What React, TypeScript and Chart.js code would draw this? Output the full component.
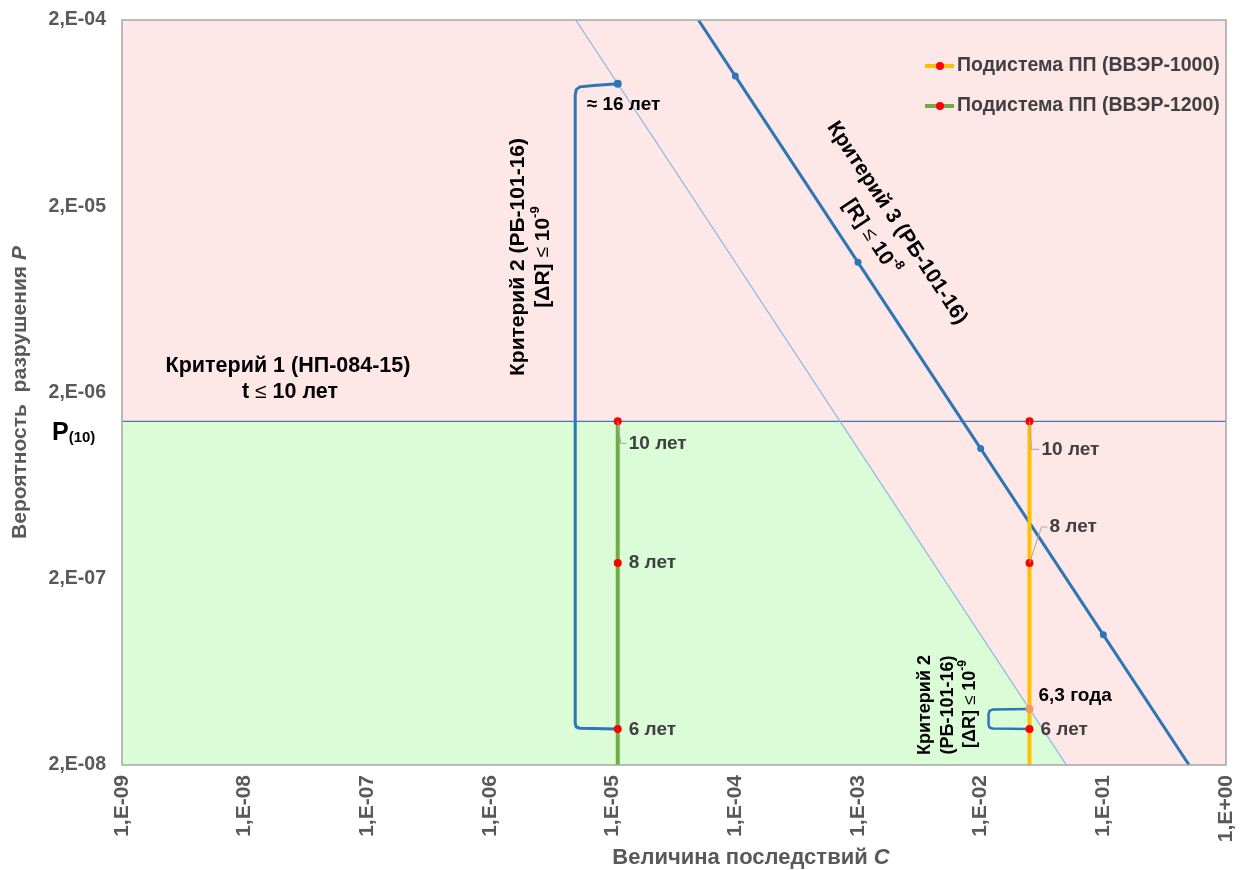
import React, { useEffect, useRef } from "react";
import { Chart, registerables } from "chart.js";

Chart.register(...registerables);

// ---------- data ----------
const xTickValues = [1e-9, 1e-8, 1e-7, 1e-6, 1e-5, 1e-4, 1e-3, 1e-2, 1e-1, 1];
const xTickLabels = ["1,E-09", "1,E-08", "1,E-07", "1,E-06", "1,E-05", "1,E-04", "1,E-03", "1,E-02", "1,E-01", "1,E+00"];
const yTickValues = [2e-8, 2e-7, 2e-6, 2e-5, 2e-4];
const yTickLabels = ["2,E-08", "2,E-07", "2,E-06", "2,E-05", "2,E-04"];

const P10 = 1.4e-6;
const crit1C = [1e-9, 1];
const crit2C = [5e-6, 0.05];
const crit2P = [2e-4, 2e-8];
const crit3C = [5e-5, 1e-4, 1e-3, 1e-2, 1e-1, 0.5];
const crit3P = [2e-4, 1e-4, 1e-5, 1e-6, 1e-7, 2e-8];
const crit3Marker = [0, 1, 1, 1, 1, 0];
const greenZoneC = [1e-9, 7.14e-4, 0.05];
const greenZoneP = [1.4e-6, 1.4e-6, 2e-8];

const seriesNames = ["Подистема ПП (ВВЭР-1000)", "Подистема ПП (ВВЭР-1200)"];
const vver1000C = 0.025;
const vver1200C = 1.1e-5;
const yearsP = [1.4e-6, 2.43e-7, 3.12e-8, 2e-8];
const yearsMarker = [1, 1, 1, 0];
const yearsLabels = ["10 лет", "8 лет", "6 лет"];

const point16C = 1.1e-5;
const point16P = 9.1e-5;
const point16Label = "≈ 16 лет";
const point63C = 0.025;
const point63P = 4.0e-8;
const point63Label = "6,3 года";

const bigBracketC = [1.1e-5, 7.0e-6, 5.4e-6, 5.05e-6, 4.95e-6, 4.95e-6, 5.05e-6, 5.4e-6, 1.1e-5];
const bigBracketP = [9.1e-5, 8.9e-5, 8.75e-5, 8.45e-5, 7.9e-5, 3.35e-8, 3.2e-8, 3.15e-8, 3.12e-8];
const smallBracketC = [0.025, 0.0125, 0.0118, 0.0116, 0.0116, 0.0118, 0.0125, 0.025];
const smallBracketP = [4.0e-8, 3.97e-8, 3.9e-8, 3.75e-8, 3.3e-8, 3.18e-8, 3.14e-8, 3.12e-8];

// ---------- styles ----------
const PINK = "#fde7e7";
const GREEN_BG = "#dafcd6";
const BLUE = "#2e75b6";
const LIGHT_BLUE = "#8fbbe3";
const P10_COLOR = "#4f74aa";
const GREEN = "#70ad47";
const ORANGE = "#ffc000";
const RED = "#ff0000";
const TICK_COLOR = "#595959";
const LABEL_COLOR = "#404040";
const FONT = "'Liberation Sans', Arial, sans-serif";

const zip = (xs: number[], ys: number[]) => xs.map((x, i) => ({ x, y: ys[i] }));

type Part = { text: string; font: string; dy?: number };

function drawRich(ctx: CanvasRenderingContext2D, parts: Part[], x: number, y: number, angle: number, color: string, align: "center" | "left" = "center") {
  ctx.save();
  ctx.translate(x, y);
  ctx.rotate(angle);
  ctx.fillStyle = color;
  ctx.textBaseline = "middle";
  ctx.textAlign = "left";
  let total = 0;
  for (const p of parts) {
    ctx.font = p.font;
    total += ctx.measureText(p.text).width;
  }
  let cx = align === "center" ? -total / 2 : 0;
  for (const p of parts) {
    ctx.font = p.font;
    ctx.fillText(p.text, cx, p.dy || 0);
    cx += ctx.measureText(p.text).width;
  }
  ctx.restore();
}

const bgPlugin = {
  id: "bgPlugin",
  beforeDatasetsDraw(chart: any) {
    const { ctx, chartArea: a } = chart;
    ctx.save();
    ctx.fillStyle = PINK;
    ctx.fillRect(a.left, a.top, a.right - a.left, a.bottom - a.top);
    ctx.restore();
  },
};

const annotPlugin = {
  id: "annotPlugin",
  afterDatasetsDraw(chart: any) {
    const { ctx, chartArea: a } = chart;
    const xs = chart.scales.x;
    const ys = chart.scales.y;
    const px = (v: number) => xs.getPixelForValue(v);
    const py = (v: number) => ys.getPixelForValue(v);

    // border
    ctx.save();
    ctx.strokeStyle = "#a6a6a6";
    ctx.lineWidth = 1.5;
    ctx.strokeRect(a.left, a.top, a.right - a.left, a.bottom - a.top);
    ctx.restore();

    const bold = (s: number) => `bold ${s}px ${FONT}`;
    const normal = (s: number) => `${s}px ${FONT}`;

    // leader lines
    const leader = (pts: number[][]) => {
      ctx.save();
      ctx.strokeStyle = "#a6a6a6";
      ctx.lineWidth = 1;
      ctx.beginPath();
      pts.forEach((p, i) => (i ? ctx.lineTo(p[0], p[1]) : ctx.moveTo(p[0], p[1])));
      ctx.stroke();
      ctx.restore();
    };
    const gx = px(vver1200C);
    const ox = px(vver1000C);
    const g10 = py(yearsP[0]);
    const o10 = py(yearsP[0]);
    const o8 = py(yearsP[1]);
    leader([[gx, g10], [gx + 3, g10 + 22], [gx + 9, g10 + 22]]);
    leader([[ox, o10], [ox + 2, o10 + 28], [ox + 10, o10 + 28]]);
    leader([[ox, o8], [ox + 12, o8 - 36], [ox + 18, o8 - 36]]);

    // year labels
    const yl = (t: string, x: number, y: number) => drawRich(ctx, [{ text: t, font: bold(19) }], x, y, 0, LABEL_COLOR, "left");
    yl(yearsLabels[0], gx + 11, g10 + 22);
    yl(yearsLabels[1], gx + 11, py(yearsP[1]));
    yl(yearsLabels[2], gx + 11, py(yearsP[2]) + 1);
    yl(yearsLabels[0], ox + 12, o10 + 28);
    yl(yearsLabels[1], ox + 20, o8 - 36);
    yl(yearsLabels[2], ox + 11, py(yearsP[2]) + 1);

    drawRich(ctx, [{ text: point16Label, font: bold(19) }], px(point16C) - 31, py(point16P) + 21, 0, "#000", "left");
    drawRich(ctx, [{ text: point63Label, font: bold(19) }], px(point63C) + 9, py(point63P) - 13, 0, "#000", "left");

    // criterion 1
    drawRich(ctx, [{ text: "Критерий 1 (НП-084-15)", font: bold(21.5) }], 288, 366, 0, "#000");
    drawRich(ctx, [{ text: "t ", font: bold(21.5) }, { text: "≤", font: normal(21) }, { text: " 10 лет", font: bold(21.5) }], 290, 392, 0, "#000");

    // criterion 2 (vertical)
    const up = -Math.PI / 2;
    drawRich(ctx, [{ text: "Критерий 2 (РБ-101-16)", font: bold(21) }], 518, 257, up, "#000");
    drawRich(ctx, [
      { text: "[ΔR] ", font: bold(21) },
      { text: "≤", font: normal(19) },
      { text: " 10", font: bold(21) },
      { text: "-9", font: bold(13), dy: -8 },
    ], 543, 257, up, "#000");

    // criterion 3 (along line)
    const ang = Math.atan2(py(1e-6) - py(1e-5), px(1e-2) - px(1e-3));
    drawRich(ctx, [{ text: "Критерий 3 (РБ-101-16)", font: bold(21) }], 897, 223, ang, "#000");
    drawRich(ctx, [
      { text: "[R] ", font: bold(21) },
      { text: "≤", font: normal(19) },
      { text: " 10", font: bold(21) },
      { text: "-8", font: bold(13), dy: -8 },
    ], 871, 237, ang, "#000");

    // criterion 2 small
    drawRich(ctx, [{ text: "Критерий 2", font: bold(18) }], 925, 705, up, "#000");
    drawRich(ctx, [{ text: "(РБ-101-16)", font: bold(18) }], 948, 705, up, "#000");
    drawRich(ctx, [
      { text: "[ΔR] ", font: bold(18) },
      { text: "≤", font: normal(17) },
      { text: " 10", font: bold(18) },
      { text: "-9", font: bold(12), dy: -7 },
    ], 970, 704, up, "#000");

    // P(10)
    drawRich(ctx, [{ text: "P", font: bold(25) }, { text: "(10)", font: bold(15), dy: 5 }], 52, py(P10) + 12, 0, "#000", "left");

    // legend
    const legendColors = [ORANGE, GREEN];
    seriesNames.forEach((name, i) => {
      const y = 66 + i * 40;
      ctx.save();
      ctx.strokeStyle = legendColors[i];
      ctx.lineWidth = 4;
      ctx.beginPath();
      ctx.moveTo(925, y);
      ctx.lineTo(954, y);
      ctx.stroke();
      ctx.fillStyle = RED;
      ctx.beginPath();
      ctx.arc(940, y, 4, 0, Math.PI * 2);
      ctx.fill();
      ctx.restore();
      drawRich(ctx, [{ text: name, font: bold(19.5) }], 957, y, 0, LABEL_COLOR, "left");
    });

    // axis titles
    drawRich(ctx, [
      { text: "Вероятность  разрушения ", font: bold(21) },
      { text: "P", font: `italic bold 21px ${FONT}` },
    ], 20, (a.top + a.bottom) / 2, up, TICK_COLOR);
    drawRich(ctx, [
      { text: "Величина последствий ", font: bold(22) },
      { text: "C", font: `italic bold 22px ${FONT}` },
    ], 751, 858, 0, TICK_COLOR);
  },
};

export default function App() {
  const ref = useRef<HTMLCanvasElement | null>(null);
  useEffect(() => {
    document.body.style.margin = "0";
    const canvas = ref.current!;
    const line = (data: any[], color: string, width: number, order: number, extra: any = {}) => ({
      data,
      borderColor: color,
      backgroundColor: color,
      borderWidth: width,
      showLine: true,
      pointRadius: 0,
      tension: 0,
      fill: false,
      order,
      ...extra,
    });
    const chart = new Chart(canvas, {
      type: "scatter",
      data: {
        datasets: [
          line(zip(greenZoneC, greenZoneP), "rgba(0,0,0,0)", 0, 20, { fill: "start", backgroundColor: GREEN_BG }),
          line(zip(crit1C, [P10, P10]), P10_COLOR, 1.3, 15),
          line(zip(crit2C, crit2P), LIGHT_BLUE, 1.3, 14),
          line(zip(crit3C, crit3P), BLUE, 3, 13, {
            pointRadius: crit3Marker.map((m) => (m ? 3.5 : 0)),
            pointBackgroundColor: BLUE,
            pointBorderWidth: 0,
          }),
          line(zip(bigBracketC, bigBracketP), BLUE, 3, 12, { borderJoinStyle: "round" }),
          line(zip(smallBracketC, smallBracketP), BLUE, 2.5, 11, { borderJoinStyle: "round" }),
          line(zip(yearsP.map(() => vver1200C), yearsP), GREEN, 4, 5, {
            pointRadius: yearsMarker.map((m) => (m ? 4 : 0)),
            pointBackgroundColor: RED,
            pointBorderWidth: 0,
          }),
          line(zip(yearsP.map(() => vver1000C), yearsP), ORANGE, 4, 4, {
            pointRadius: yearsMarker.map((m) => (m ? 4 : 0)),
            pointBackgroundColor: RED,
            pointBorderWidth: 0,
          }),
          line([{ x: point16C, y: point16P }], BLUE, 0, 2, { showLine: false, pointRadius: 4, pointBorderWidth: 0 }),
          line([{ x: point63C, y: point63P }], "#ee9a6a", 0, 1, { showLine: false, pointRadius: 4, pointBorderWidth: 0 }),
        ],
      },
      options: {
        animation: false,
        responsive: false,
        devicePixelRatio: 1,
        layout: { padding: { top: 20, right: 15, left: 0, bottom: 0 } },
        plugins: { legend: { display: false }, tooltip: { enabled: false } },
        scales: {
          x: {
            type: "logarithmic",
            min: 1e-9,
            max: 1,
            grid: { display: false, drawTicks: false },
            border: { display: false },
            afterBuildTicks: (s: any) => {
              s.ticks = xTickValues.map((v) => ({ value: v }));
            },
            afterFit: (s: any) => {
              s.height = 105;
              s.paddingLeft = 0;
              s.paddingRight = 0;
            },
            ticks: {
              autoSkip: false,
              minRotation: 90,
              maxRotation: 90,
              padding: 10,
              color: TICK_COLOR,
              font: { family: FONT, weight: "bold", size: 21 },
              callback: (_v: any, i: number) => xTickLabels[i],
            },
          },
          y: {
            type: "logarithmic",
            min: 2e-8,
            max: 2e-4,
            grid: { display: false, drawTicks: false },
            border: { display: false },
            afterBuildTicks: (s: any) => {
              s.ticks = yTickValues.map((v) => ({ value: v }));
            },
            afterFit: (s: any) => {
              s.width = 122;
              s.paddingTop = 0;
              s.paddingBottom = 0;
            },
            ticks: {
              padding: 16,
              color: TICK_COLOR,
              font: { family: FONT, weight: "bold", size: 19.5 },
              callback: (_v: any, i: number) => yTickLabels[i],
            },
          },
        },
      } as any,
      plugins: [bgPlugin, annotPlugin],
    });
    return () => chart.destroy();
  }, []);
  return (
    <div style={{ position: "absolute", left: 0, top: 0, width: 1241, height: 870 }}>
      <canvas ref={ref} width={1241} height={870} style={{ width: 1241, height: 870 }} />
    </div>
  );
}
